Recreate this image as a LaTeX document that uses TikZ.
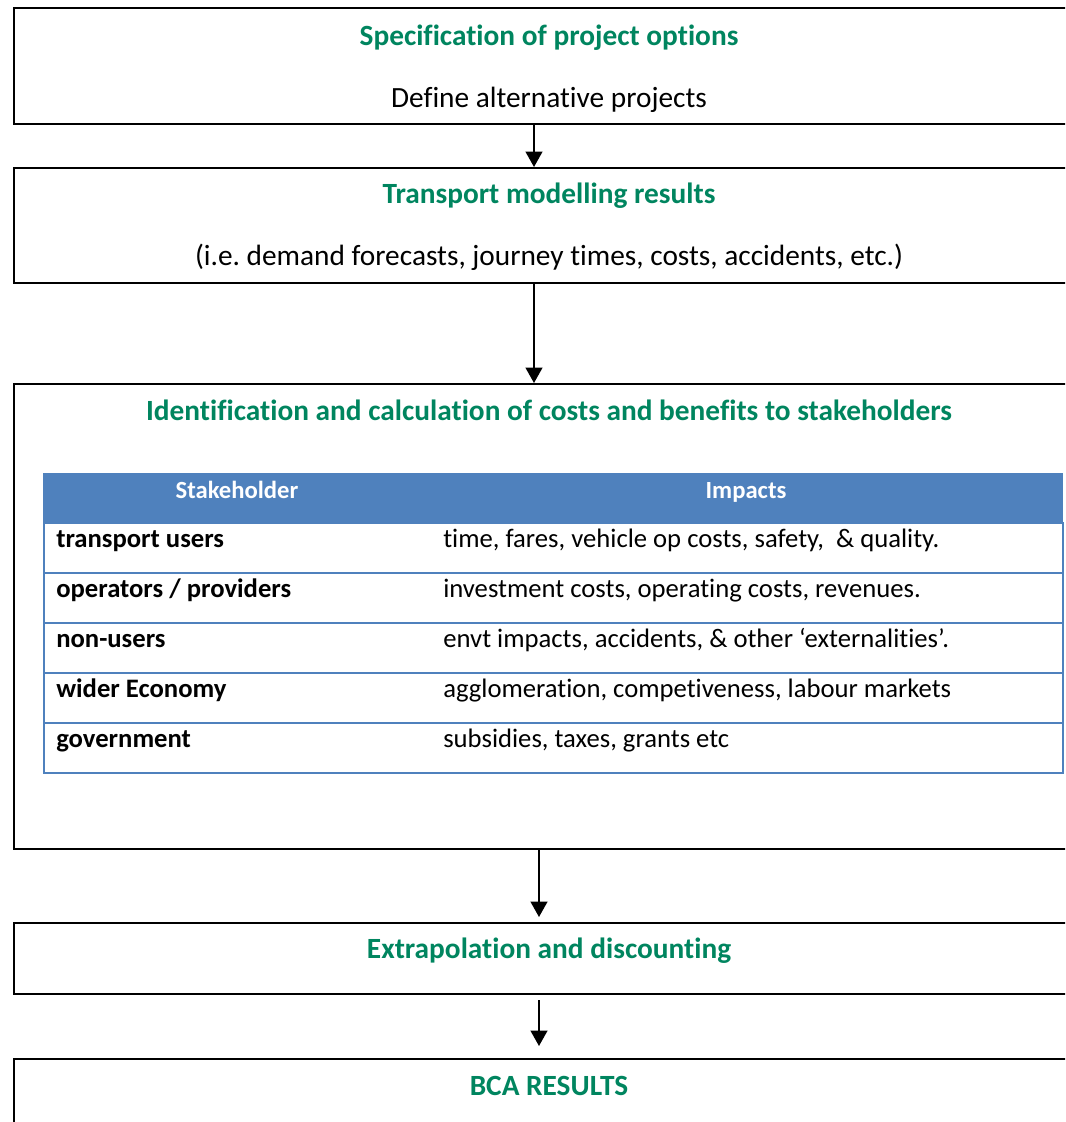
\documentclass[tikz,border=0pt]{standalone}
\usepackage{fontspec}
\setmainfont{Carlito}[Ligatures={NoCommon,NoContextual,NoRequired}, Contextuals=NoAlternate]
\usetikzlibrary{positioning, arrows.meta}
\definecolor{titlegreen}{RGB}{0,133,95}
\definecolor{tableblue}{RGB}{79,129,189}

\begin{document}
\begin{tikzpicture}[x=0.75pt, y=-0.75pt,
    box/.style={draw, line width=1.5pt, anchor=north west, inner sep=0pt, minimum width=804pt},
    title/.style={anchor=base, text=titlegreen, font=\fontsize{22}{26}\selectfont\bfseries},
    body/.style={anchor=base, font=\fontsize{22}{26}\selectfont},
    head/.style={anchor=north west, inner sep=0pt, fill=tableblue, draw=tableblue, minimum width=764.25pt, minimum height=36.75pt},
    row/.style={anchor=north west, inner sep=0pt, draw=tableblue, line width=1.8pt, minimum width=764.25pt, minimum height=37.5pt},
    headtext/.style={anchor=base, text=white, font=\fontsize{18.5}{22}\selectfont\bfseries},
    who/.style={anchor=base west, inner sep=0pt, font=\fontsize{20}{24}\selectfont\bfseries},
    what/.style={anchor=base west, inner sep=0pt, font=\fontsize{20}{24}\selectfont},
    flow/.style={-{Triangle[length=11.5pt, width=12.5pt]}, line width=1.5pt}]
        \useasboundingbox (0,0) rectangle (1065,1122);
        \clip (0,0) rectangle (1065,1122);

        % boxes
        \node[box, minimum height=87pt] (spec) at (13,7) {};
        \node[box, minimum height=86.25pt] (model) at (13,167) {};
        \node[box, minimum height=348.75pt] (stake) at (13,383) {};
        \node[box, minimum height=53.25pt] (extra) at (13,922) {};
        \node[box, minimum height=75pt] (result) at (13,1058) {};

        \node[title] (spect) at (549,45) {Specification of project options};
        \node[body] (specb) at (549,107) {Define alternative projects};
        \node[title] (modelt) at (549,203) {Transport modelling results};
        \node[body] (modelb) at (549,265) {(i.e.\ demand forecasts, journey times, costs, accidents, etc.)};
        \node[title] (staket) at (549,420) {Identification and calculation of costs and benefits to stakeholders};
        \node[title] (extrat) at (549,958) {Extrapolation and discounting};
        \node[title] (resultt) at (549,1095) {BCA RESULTS};

        % table
        \node[head] (hd) at (43,473) {};
        \node[headtext] (hdwho) at (237,498) {Stakeholder};
        \node[headtext] (hdwhat) at (746,498) {Impacts};

        \node[row] (r1) at (43,522) {};
        \node[row] (r2) at (43,572) {};
        \node[row] (r3) at (43,622) {};
        \node[row] (r4) at (43,672) {};
        \node[row] (r5) at (43,722) {};

        \node[who] (w1) at (56,547) {transport users};
        \node[what] (i1) at (443,547) {time, fares, vehicle op costs, safety,~ \& quality.};
        \node[who] (w2) at (56,597) {operators / providers};
        \node[what] (i2) at (443,597) {investment costs, operating costs, revenues.};
        \node[who] (w3) at (56,647) {non-users};
        \node[what] (i3) at (443,647) {envt impacts, accidents, \& other ‘externalities’.};
        \node[who] (w4) at (56,697) {wider Economy};
        \node[what] (i4) at (443,697) {agglomeration, competiveness, labour markets};
        \node[who] (w5) at (56,747) {government};
        \node[what] (i5) at (443,747) {subsidies, taxes, grants etc};

        % arrows
        \draw[flow] ([xshift=-12pt]spec.south) -- ([xshift=-12pt]model.north);
        \draw[flow] ([xshift=-12pt]model.south) -- ([xshift=-12pt]stake.north);
        \draw[flow, shorten >=3.75pt] ([xshift=-8.25pt]stake.south) -- ([xshift=-8.25pt]extra.north);
        \draw[flow, shorten <=3.75pt, shorten >=9pt] ([xshift=-8.25pt]extra.south) -- ([xshift=-8.25pt]result.north);
    \end{tikzpicture}
\end{document}
